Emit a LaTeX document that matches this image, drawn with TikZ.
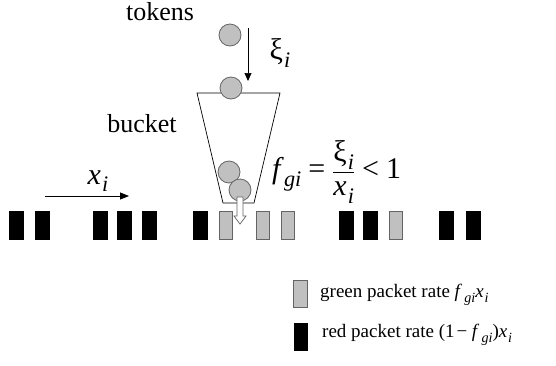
\documentclass[tikz,border=0pt]{standalone}
\usepackage{amsmath}
\usepackage{graphicx}
\usepackage{fontspec}
\setmainfont{Liberation Serif}
\usetikzlibrary{arrows.meta}
\definecolor{ballgray}{RGB}{192,192,192}
\definecolor{edgegray}{RGB}{100,100,100}
% Times-like symbols for the formulas
\newcommand{\low}[1]{\kern0.04em\raisebox{-0.24em}{\scalebox{0.74}{\textit{#1}}}}
\newcommand{\vf}{\textit{f}\kern0.08em}
\newcommand{\vx}{\textit{x}}
\newcommand{\vxi}{\textup{ξ}}
\newcommand{\tsym}[1]{\textup{#1}}
\tikzset{
  redpkt/.style={fill=black,draw=black,line width=0.6pt},
  greenpkt/.style={fill=ballgray,draw=edgegray,line width=0.8pt},
  token/.style={circle,fill=ballgray,draw=edgegray,line width=0.8pt,minimum size=22pt,inner sep=0pt},
  lbl/.style={inner sep=0pt,font=\fontsize{26}{28}\selectfont},
  mathlbl/.style={inner sep=0pt,font=\fontsize{30}{32}\selectfont},
  legend/.style={inner sep=0pt,anchor=west,font=\fontsize{19}{21}\selectfont},
}
\begin{document}
\begin{tikzpicture}[x=1pt,y=-1pt]
\useasboundingbox (0,0) rectangle (556,365);

% labels
\node[lbl] (tok) at (160,12) {tokens};
\node[lbl] (bkt) at (142,124) {bucket};

% bucket outline
\draw[line width=0.7pt] (197,93) -- (280,93) -- (254,203) -- (223,203) -- cycle;

% tokens falling in
\node[token] (t1) at (230,35) {};
\node[token] (t2) at (231,88) {};
\node[token] (t3) at (229,172) {};
\node[token] (t4) at (240,190) {};
\coordinate (ta) at (248,28);
\coordinate (tb) at (248,81);
\draw[-{Triangle[length=8pt,width=7pt]},line width=0.7pt] (ta) -- (tb);
\node[mathlbl] (xi) at (280,53) {\vxi\low{i}};

% packet stream
\foreach \n/\x in {1/9,2/35,3/93,4/117,5/142,6/193,10/339,11/363,13/439,14/466}
  \draw[redpkt] (\x,211) rectangle ++(14,28);
\foreach \n/\x in {7/219,8/256,9/281,12/389}
  \draw[greenpkt] (\x,211) rectangle ++(13,28);

% rate arrow
\coordinate (ra) at (45,196);
\coordinate (rb) at (129,196);
\draw[-{Triangle[length=9pt,width=7pt]},line width=0.8pt] (ra) -- (rb);
\node[mathlbl] (xl) at (98,181) {\vx\low{i}};

% hollow arrow out of the bucket
\draw[fill=white,draw=edgegray,line width=0.7pt]
  (237,197) -- (243,197) -- (243,216) -- (246,216) -- (240,224) -- (234,216) -- (237,216) -- cycle;

% green fraction formula
\node[mathlbl,anchor=west] (eq) at (272,172)
  {$\vf\low{gi}\mathrel{\tsym{=}}\dfrac{\vxi\low{i}}{\vx\low{i}}\mathrel{\tsym{<}}\tsym{1}$};

% legend
\draw[greenpkt] (293,280) rectangle (307,307);
\node[legend] (lg) at (320,295) {green packet rate \vf\low{gi}\vx\low{i}};
\draw[redpkt] (294,323) rectangle (307,350);
\node[legend] (lr) at (322,335) {red packet rate (1\kern0.1em−\kern0.25em\vf\low{gi})\vx\low{i}};
\end{tikzpicture}
\end{document}
